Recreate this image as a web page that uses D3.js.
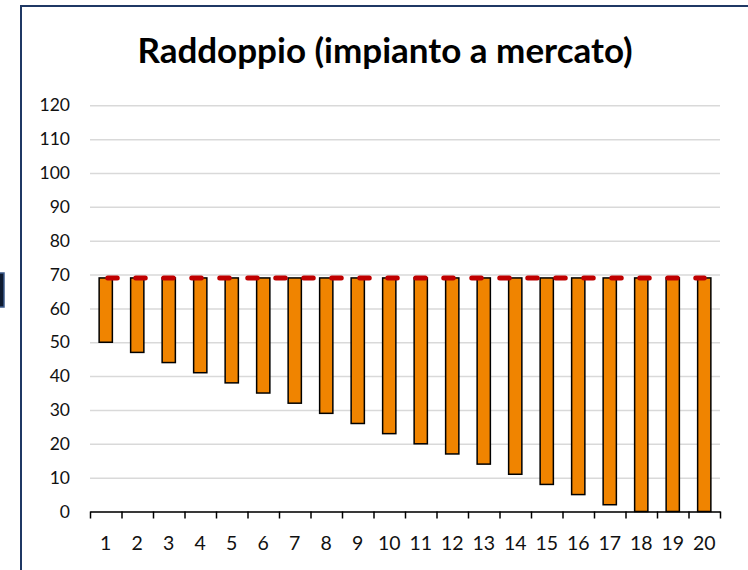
<!DOCTYPE html>
<html>
<head>
<meta charset="utf-8">
<script src="https://cdn.jsdelivr.net/npm/d3@7"></script>
<style>
  body { margin: 0; background: #fff; }
  svg { display: block; font-family: Lato, "Noto Sans", sans-serif; }
</style>
</head>
<body>
<svg id="chart" width="748" height="570"></svg>
<script>
var svg = d3.select("#chart");

// chart data
var categories = d3.range(1, 21);
var barBottom = [50, 47, 44, 41, 38, 35, 32, 29, 26, 23, 20, 17, 14, 11, 8, 5, 2, 0, 0, 0];
var barTop = [69, 69, 69, 69, 69, 69, 69, 69, 69, 69, 69, 69, 69, 69, 69, 69, 69, 69, 69, 69];
var refLine = [69, 69, 69, 69, 69, 69, 69, 69, 69, 69, 69, 69, 69, 69, 69, 69, 69, 69, 69, 69];
var yTicks = [0, 10, 20, 30, 40, 50, 60, 70, 80, 90, 100, 110, 120];
var title = "Raddoppio (impianto a mercato)";

// plot area edges
var plotLeft = 90, plotRight = 720, plotBottom = 511.5, plotTop = 105.3;

// small clipped shape on the left edge
svg.append("rect")
  .attr("x", -6).attr("y", 273).attr("width", 10).attr("height", 34)
  .attr("fill", "#0e1b30").attr("stroke", "#3b5a8a").attr("stroke-width", 1.5);

// frame
svg.append("rect")
  .attr("x", 21).attr("y", 6).attr("width", 740).attr("height", 600)
  .attr("fill", "none").attr("stroke", "#1f3864").attr("stroke-width", 2);

var xScale = d3.scaleBand()
  .domain(categories)
  .range([plotLeft, plotRight])
  .paddingInner(0.58)
  .paddingOuter(0.29);

var edgeScale = d3.scaleLinear()
  .domain([0, categories.length])
  .range([plotLeft, plotRight]);

var yScale = d3.scaleLinear()
  .domain([0, 120])
  .range([plotBottom, plotTop]);

// gridlines
svg.append("g")
  .attr("transform", "translate(" + plotLeft + ",0)")
  .call(d3.axisLeft(yScale).tickValues(yTicks).tickSize(-(plotRight - plotLeft)).tickFormat(""))
  .call(function (g) {
    g.select(".domain").remove();
    g.selectAll("line").attr("stroke", "#d9d9d9").attr("stroke-width", 1.5);
  });

// y labels
svg.append("g")
  .attr("transform", "translate(" + (plotLeft - 20) + ",0)")
  .call(d3.axisLeft(yScale).tickValues(yTicks).tickSize(0).tickPadding(0))
  .call(function (g) {
    g.select(".domain").remove();
    g.selectAll("text").attr("font-size", 17.5).attr("fill", "#111")
      .attr("font-family", "Lato, sans-serif");
  });

// floating bars
svg.append("g").selectAll("rect")
  .data(categories)
  .join("rect")
  .attr("x", function (d) { return xScale(d); })
  .attr("y", function (d, i) { return yScale(barTop[i]); })
  .attr("width", xScale.bandwidth())
  .attr("height", function (d, i) { return yScale(barBottom[i]) - yScale(barTop[i]); })
  .attr("fill", "#f08400")
  .attr("stroke", "#000")
  .attr("stroke-width", 1.5);

// x axis: boundary ticks
svg.append("g")
  .attr("transform", "translate(0," + plotBottom + ")")
  .call(d3.axisBottom(edgeScale).tickValues(d3.range(0, categories.length + 1)).tickFormat("").tickSize(7).tickSizeOuter(0))
  .call(function (g) {
    g.selectAll("line, path").attr("stroke", "#000").attr("stroke-width", 1.5);
  });

// x labels
svg.append("g")
  .attr("transform", "translate(0," + plotBottom + ")")
  .call(d3.axisBottom(xScale).tickSize(0))
  .call(function (g) {
    g.select(".domain").remove();
    g.selectAll("text").attr("font-size", 19.5).attr("fill", "#111")
      .attr("font-family", "Lato, sans-serif")
      .attr("y", 38.5).attr("dy", 0);
  });

// dashed reference line
var line = d3.line()
  .x(function (d) { return xScale(d) + xScale.bandwidth() / 2; })
  .y(function (d, i) { return yScale(refLine[i]); });

svg.append("path")
  .datum(categories)
  .attr("d", line)
  .attr("fill", "none")
  .attr("stroke", "#c00000")
  .attr("stroke-width", 5)
  .attr("stroke-linecap", "round")
  .attr("stroke-dasharray", "9.5 18.5")
  .attr("stroke-dashoffset", -2);

// title
svg.append("text")
  .attr("x", 385).attr("y", 63)
  .attr("text-anchor", "middle")
  .attr("font-size", 35)
  .attr("font-weight", "bold")
  .attr("fill", "#000")
  .text(title);
</script>
</body>
</html>
